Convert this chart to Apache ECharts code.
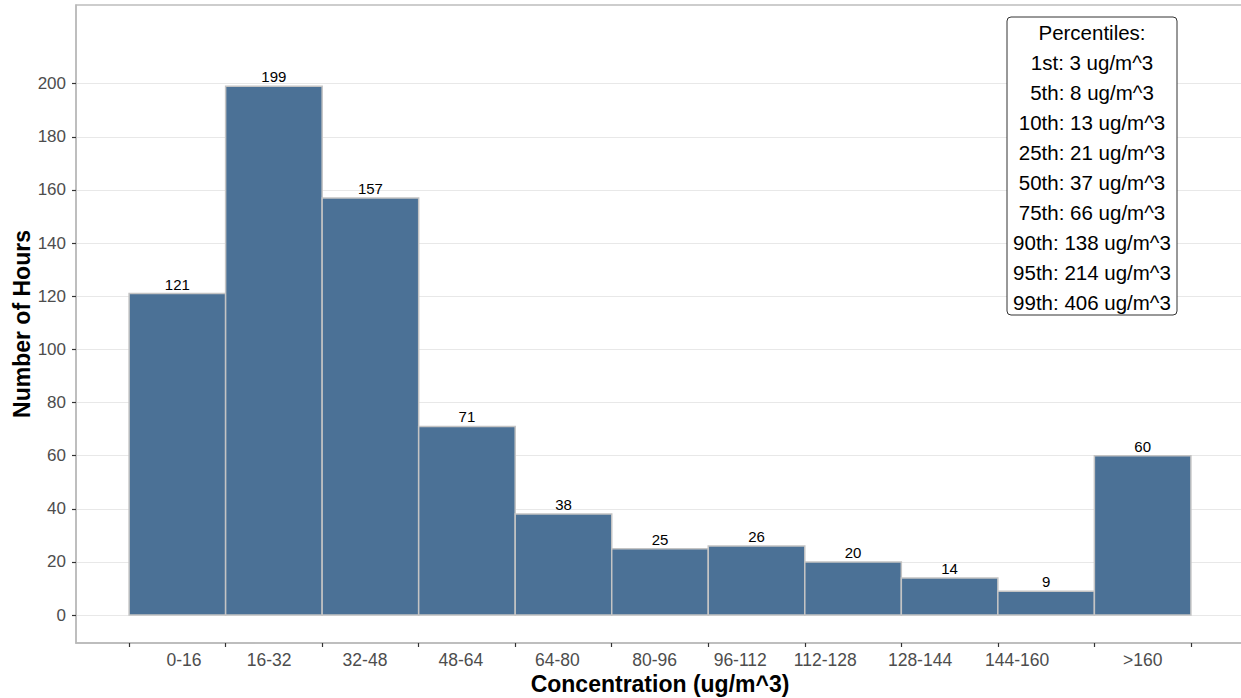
<!DOCTYPE html>
<html>
<head>
<meta charset="utf-8">
<script src="https://cdn.jsdelivr.net/npm/echarts@6/dist/echarts.min.js"></script>
<style>
html,body{margin:0;padding:0;background:#fff;}
#chart{width:1241px;height:698px;}
</style>
</head>
<body>
<div id="chart"></div>
<script>
// ---- data ----
var binStarts = [0, 16, 32, 48, 64, 80, 96, 112, 128, 144, 160];
var binEnds   = [16, 32, 48, 64, 80, 96, 112, 128, 144, 160, 176];
var counts    = [121, 199, 157, 71, 38, 25, 26, 20, 14, 9, 60];
var xTickValues = [0, 16, 32, 48, 64, 80, 96, 112, 128, 144, 160, 176];
var xLabelValues = [9.1, 23.2, 39.1, 55.0, 71.0, 87.1, 101.3, 115.4, 131.1, 147.2, 168.0];
var xLabels = ['0-16', '16-32', '32-48', '48-64', '64-80', '80-96', '96-112', '112-128', '128-144', '144-160', '>160'];
var yTickValues = [0, 20, 40, 60, 80, 100, 120, 140, 160, 180, 200];
var percentileNames = ['1st', '5th', '10th', '25th', '50th', '75th', '90th', '95th', '99th'];
var percentileValues = [3, 8, 13, 21, 37, 66, 138, 214, 406];

var FONT = '"Liberation Sans", Arial, sans-serif';
var barData = binStarts.map(function (s, i) { return [s, binEnds[i], counts[i]]; });
var boxLines = ['Percentiles:'].concat(percentileNames.map(function (n, i) {
  return n + ': ' + percentileValues[i] + ' ug/m^3';
}));

var chart = echarts.init(document.getElementById('chart'), null, {renderer: 'svg'});
chart.setOption({
  animation: false,
  backgroundColor: '#fff',
  grid: {
    left: 76, top: 5, right: -3, bottom: 55,
    containLabel: false, outerBoundsMode: 'none',
    show: true, borderColor: '#bdbdbd', borderWidth: 1.5, backgroundColor: 'transparent'
  },
  xAxis: {
    type: 'value', min: -8.8, max: 184.8,
    name: 'Concentration (ug/m^3)', nameLocation: 'middle', nameGap: 29, nameMoveOverlap: false,
    nameTextStyle: {fontFamily: FONT, fontSize: 23, fontWeight: 'bold', color: '#000', lineHeight: 23},
    axisLine: {show: true, onZero: false, lineStyle: {color: '#b8b8b8', width: 1.5}},
    axisTick: {show: true, length: 4, customValues: xTickValues, lineStyle: {color: '#333', width: 1.2}},
    axisLabel: {
      customValues: xLabelValues, margin: 8, lineHeight: 17,
      fontFamily: FONT, fontSize: 17.5, color: '#4d4d4d',
      formatter: function (v) {
        var best = 0, d = Infinity;
        for (var i = 0; i < xLabelValues.length; i++) {
          var dd = Math.abs(xLabelValues[i] - v);
          if (dd < d) { d = dd; best = i; }
        }
        return xLabels[best];
      }
    },
    splitLine: {show: false}
  },
  yAxis: {
    type: 'value', min: -10.5, max: 229.6,
    name: 'Number of Hours', nameLocation: 'middle', nameGap: 43, nameMoveOverlap: false,
    nameTextStyle: {fontFamily: FONT, fontSize: 23, fontWeight: 'bold', color: '#000', lineHeight: 23},
    axisLine: {show: true, onZero: false, lineStyle: {color: '#b8b8b8', width: 1.5}},
    axisTick: {show: true, length: 4, customValues: yTickValues, lineStyle: {color: '#333', width: 1.2}},
    axisLabel: {customValues: yTickValues, margin: 10, fontFamily: FONT, fontSize: 17, color: '#4d4d4d'},
    splitLine: {show: true, lineStyle: {color: '#e8e8e8', width: 1}}
  },
  series: [{
    type: 'custom',
    data: barData,
    encode: {x: [0, 1], y: 2},
    renderItem: function (params, api) {
      var x0 = api.value(0), x1 = api.value(1), v = api.value(2);
      var p0 = api.coord([x0, v]);
      var p1 = api.coord([x1, 0]);
      return {
        type: 'group',
        children: [{
          type: 'rect',
          shape: {x: p0[0], y: p0[1], width: p1[0] - p0[0], height: p1[1] - p0[1]},
          style: {fill: '#4b7196', stroke: '#c4c4c4', lineWidth: 1.5}
        }, {
          type: 'text',
          style: {
            text: String(v), x: (p0[0] + p1[0]) / 2, y: p0[1] - 2,
            align: 'center', verticalAlign: 'bottom',
            textAlign: 'center', textVerticalAlign: 'bottom',
            fontFamily: FONT, fontSize: 15, fill: '#000'
          }
        }]
      };
    }
  }],
  graphic: [{
    type: 'rect', z: 100,
    shape: {x: 1007, y: 17, width: 170, height: 298, r: 4},
    style: {fill: '#fff', stroke: '#333', lineWidth: 1}
  }, {
    type: 'text', z: 101, x: 1092, y: 17,
    style: {
      text: boxLines.join('\n'),
      align: 'center', verticalAlign: 'top',
      textAlign: 'center', textVerticalAlign: 'top',
      fontFamily: FONT, fontSize: 20.5, lineHeight: 30, fill: '#000'
    }
  }]
});
</script>
</body>
</html>
